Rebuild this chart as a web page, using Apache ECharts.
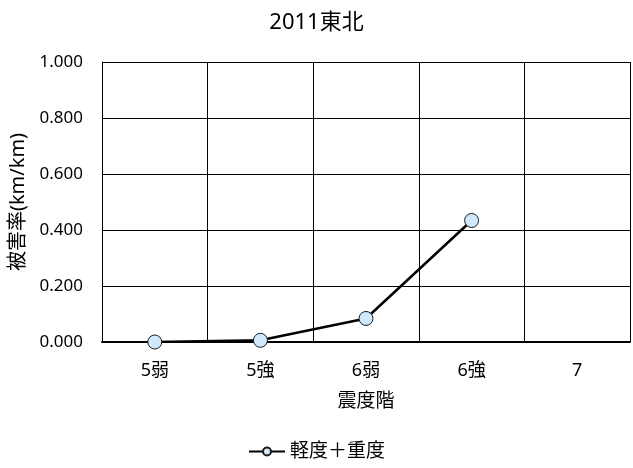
<!DOCTYPE html>
<html><head><meta charset="utf-8">
<script src="https://cdn.jsdelivr.net/npm/echarts@6/dist/echarts.min.js"></script>
<style>html,body{margin:0;padding:0;background:#fff}#c{width:633px;height:468px}</style>
</head><body><div id="c"></div>
<script>
const titleText = '2011東北';
const categories = ['5弱', '5強', '6弱', '6強', '7'];
const seriesName = '軽度＋重度';
const values = [0.000, 0.006, 0.084, 0.434, null];
const yName = '被害率(km/km)';
const xName = '震度階';
const FONT = '"Noto Sans", "Noto Sans CJK JP", sans-serif';

const chart = echarts.init(document.getElementById('c'));
chart.setOption({
  animation: false,
  backgroundColor: '#fff',
  textStyle: { fontFamily: FONT },
  title: { text: titleText, left: 'center', top: 7,
    textStyle: { fontFamily: FONT, fontSize: 22, fontWeight: 'normal', color: '#000' } },
  legend: { top: 442, left: 'center', padding: 0, itemWidth: 36, itemHeight: 10, itemGap: 4,
    textStyle: { fontFamily: FONT, fontSize: 19, color: '#000' },
    data: [seriesName] },
  grid: { left: 101, right: 3, top: 62, bottom: 126 },
  xAxis: {
    type: 'category', data: categories, boundaryGap: true,
    name: xName, nameLocation: 'middle', nameGap: 50,
    nameTextStyle: { fontFamily: FONT, fontSize: 19, color: '#000' },
    axisLine: { lineStyle: { color: '#000', width: 2 } },
    axisTick: { show: false },
    axisLabel: { margin: 20, fontFamily: FONT, fontSize: 18, color: '#000' },
    splitLine: { show: true, lineStyle: { color: '#000', width: 1 } }
  },
  yAxis: {
    type: 'value', min: 0, max: 1, interval: 0.2,
    name: yName, nameLocation: 'middle', nameGap: 74, nameRotate: 90,
    nameTextStyle: { fontFamily: FONT, fontSize: 20, color: '#000' },
    axisLine: { show: true, lineStyle: { color: '#000', width: 1 } },
    axisTick: { show: false },
    axisLabel: { margin: 19, fontFamily: FONT, fontSize: 17, color: '#000',
      formatter: v => v.toFixed(3) },
    splitLine: { show: true, lineStyle: { color: '#000', width: 1 } }
  },
  series: [{
    name: seriesName, type: 'line', data: values,
    symbol: 'circle', symbolSize: 14,
    lineStyle: { color: '#000', width: 2.5 },
    itemStyle: { color: '#cfe8fb', borderColor: '#1a1a1a', borderWidth: 1 }
  }]
});
</script></body></html>
